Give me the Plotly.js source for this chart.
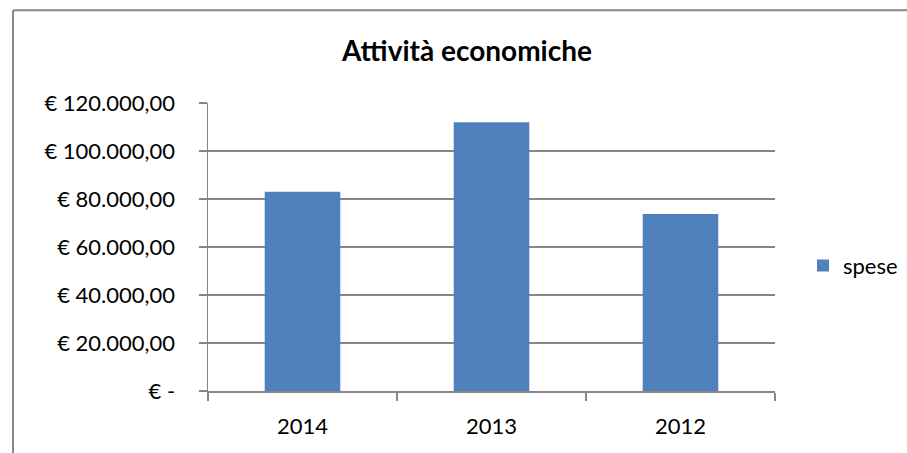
<!DOCTYPE html>
<html>
<head>
<meta charset="utf-8">
<script src="https://cdn.plot.ly/plotly-3.0.1.min.js"></script>
<style>html,body{margin:0;padding:0;background:#fff;}#chart{width:907px;height:453px;}</style>
</head>
<body>
<div id="chart"></div>
<script>
const categories = ['2014', '2013', '2012'];
const spese = [83000, 112000, 73700];
const tickValues = [0, 20000, 40000, 60000, 80000, 100000, 120000];
const tickLabels = ['€ -', '€ 20.000,00', '€ 40.000,00', '€ 60.000,00', '€ 80.000,00', '€ 100.000,00', '€ 120.000,00'];

const W = 907, H = 453;
const L = 208, R = 775, T = 103, B = 391.5;
const px2x = x => (x - L) / (R - L);
const px2y = y => (B - y) / (B - T);
const font = 'Lato, "Open Sans", sans-serif';

const data = [{
  type: 'bar',
  name: 'spese',
  x: categories,
  y: spese,
  marker: {color: '#4F81BD'}
}];

const layout = {
  width: W, height: H,
  margin: {l: L, r: W - R, t: T, b: H - B, pad: 0, autoexpand: false},
  paper_bgcolor: '#fff', plot_bgcolor: '#fff',
  font: {family: font, size: 22, color: '#000'},
  title: {text: '<b>Attività economiche</b>', font: {family: font, size: 28, color: '#000'}, x: 467 / W, xanchor: 'center', y: 1 - 51 / H, yanchor: 'middle'},
  bargap: 0.6,
  showlegend: true,
  legend: {x: px2x(803), xanchor: 'left', y: px2y(266), yanchor: 'middle', font: {family: font, size: 22}, bgcolor: 'rgba(0,0,0,0)', itemwidth: 30},
  xaxis: {
    type: 'category', showgrid: false, showline: true, linecolor: '#868686', linewidth: 1.5,
    ticks: 'outside', tickson: 'boundaries', ticklen: 8, tickcolor: '#868686', tickwidth: 1.5,
    ticklabelstandoff: 15, tickfont: {family: font, size: 22}, fixedrange: true, automargin: false
  },
  yaxis: {
    range: [0, 120000], tickvals: tickValues, ticktext: tickLabels,
    showgrid: true, gridcolor: '#868686', gridwidth: 1.5, zeroline: false,
    showline: true, linecolor: '#868686', linewidth: 1.5,
    ticks: 'outside', ticklen: 8, tickcolor: '#868686', tickwidth: 1.5,
    ticklabelstandoff: 19, tickfont: {family: font, size: 22}, fixedrange: true, automargin: false
  },
  shapes: [
    {type: 'line', xref: 'paper', yref: 'paper', x0: px2x(13), x1: px2x(13), y0: px2y(10), y1: px2y(460), line: {color: '#888', width: 2}},
    {type: 'line', xref: 'paper', yref: 'paper', x0: px2x(13), x1: px2x(910), y0: px2y(10), y1: px2y(10), line: {color: '#888', width: 2}}
  ]
};

Plotly.newPlot('chart', data, layout, {displayModeBar: false, staticPlot: true});
</script>
</body>
</html>
